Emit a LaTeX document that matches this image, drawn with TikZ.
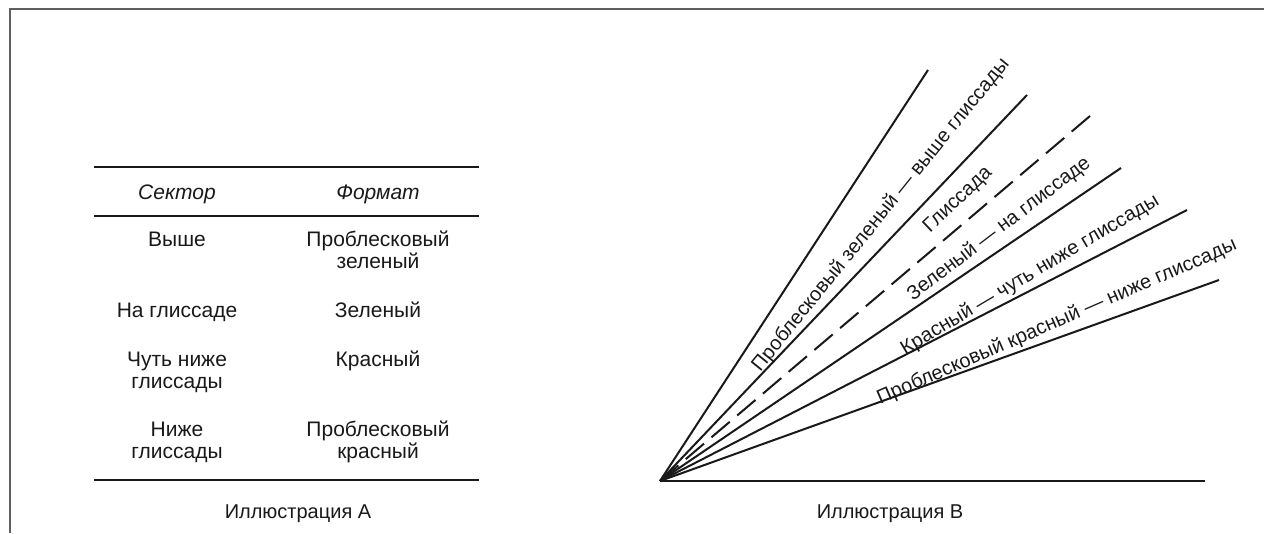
\documentclass[tikz,border=0pt]{standalone}
\usepackage{fontspec}
\setmainfont{Liberation Sans}
\definecolor{framegray}{RGB}{95,95,95}
\definecolor{ink}{RGB}{25,25,25}
\begin{document}
\begin{tikzpicture}[x=1pt,y=1pt,
  txt/.style={font=\fontsize{21}{22}\selectfont, text=ink, inner sep=0pt, align=center, anchor=base},
  hdr/.style={txt, font=\fontsize{21}{22}\selectfont\itshape},
  captiontext/.style={txt, font=\fontsize{20}{22}\selectfont},
  ray/.style={line width=2pt, ink},
  rule/.style={line width=1.3pt, ink},
  lbl/.style={font=\fontsize{20}{22}\selectfont, text=ink, inner sep=0pt}]
\useasboundingbox (0,0) rectangle (1264,533);
% open frame: top and left edges only
\draw[framegray, line width=2pt] (9.5,0) -- (9.5,523.5) -- (1264,523.5);

% ---- table (multi-line cells are placed by the baseline of their last line) ----
\coordinate (t1a) at (94,366);  \coordinate (t1b) at (479,366);
\coordinate (t2a) at (94,317);  \coordinate (t2b) at (479,317);
\coordinate (t3a) at (94,53);   \coordinate (t3b) at (479,53);
\draw[rule] (t1a) -- (t1b);
\draw[rule] (t2a) -- (t2b);
\draw[rule] (t3a) -- (t3b);

\node[hdr] (hsec) at (177,333) {Сектор};
\node[hdr] (hfmt) at (378,333) {Формат};

\node[txt] (s1) at (177,286) {Выше};
\node[txt] (f1) at (378,264) {Проблесковый\\зеленый};
\node[txt] (s2) at (177,215) {На глиссаде};
\node[txt] (f2) at (378,215) {Зеленый};
\node[txt] (s3) at (177,144) {Чуть ниже\\глиссады};
\node[txt] (f3) at (378,166) {Красный};
\node[txt] (s4) at (177,74)  {Ниже\\глиссады};
\node[txt] (f4) at (378,74)  {Проблесковый\\красный};

\node[captiontext] (capA) at (298,15) {Иллюстрация А};

% ---- light sectors ----
\coordinate (o)  at (660,52);
\coordinate (e1) at (928,463);
\coordinate (e2) at (1027,438);
\coordinate (e3) at (1090,417);
\coordinate (e4) at (1121,365);
\coordinate (e5) at (1187,323);
\coordinate (e6) at (1219,253);
\coordinate (e0) at (1205,52);

\draw[ray] (o) -- (e1);
\draw[ray] (o) -- (e2);
\draw[ray, dash pattern=on 24pt off 9.75pt] (o) -- (e3);
\draw[ray] (o) -- (e4);
\draw[ray] (o) -- (e5);
\draw[ray] (o) -- (e6);
\draw[ray] (o) -- (e0);

\node[lbl, rotate=51]   (l1) at (881,318) {Проблесковый зеленый — выше глиссады};
\node[lbl, rotate=43.5] (l2) at (958,333) {Глиссада};
\node[lbl, rotate=37.3] (l3) at (999,304) {Зеленый — на глиссаде};
\node[lbl, rotate=30.7] (l4) at (1030,258) {Красный — чуть ниже глиссады};
\node[lbl, rotate=23.5] (l5) at (1057,211) {Проблесковый красный — ниже глиссады};

\node[captiontext] (capB) at (890,15) {Иллюстрация В};
\end{tikzpicture}
\end{document}
